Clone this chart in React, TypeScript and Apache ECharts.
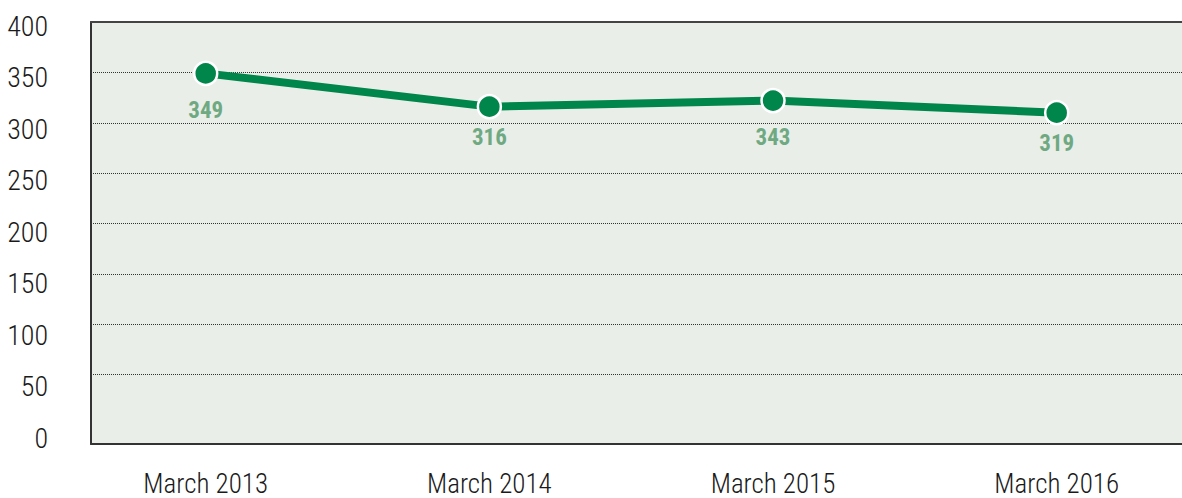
import React, { useEffect, useRef } from "react";
import * as echarts from "echarts";

const categories = ["March 2013", "March 2014", "March 2015", "March 2016"];
// plotted positions
const pointValues = [349, 316, 322, 310];
// printed labels as they appear in the picture
const printedLabels = ["349", "316", "343", "319"];
const yTickLabels = ["0", "50", "100", "150", "200", "250", "300", "350", "400"];

const labelGaps = [37, 31, 37, 31];

const FONT = '"Roboto Condensed", "Liberation Sans Narrow", "DejaVu Sans Condensed", sans-serif';
const GREEN = "#00854a";
const LABEL_GREEN = "#6fa982";
const FRAME = "#333333";

export default function App() {
  const ref = useRef<HTMLDivElement>(null);
  useEffect(() => {
    if (!ref.current) return;
    const chart = echarts.init(ref.current, null, { renderer: "svg" });
    const noBounds = { outerBoundsMode: "none" };
    const option: any = {
      animation: false,
      backgroundColor: "#ffffff",
      grid: [
        // 0: data
        { ...noBounds, left: 205.7, right: 125.3, top: 22, height: 403 },
        // 1: frame
        {
          ...noBounds, left: 91, right: -20, top: 22, bottom: 54,
          show: true, backgroundColor: "#e9eee9", borderWidth: 0,
        },
        // 2: y labels
        { ...noBounds, left: 90, right: 0, top: 26, height: 412 },
        // 3: gridlines
        { ...noBounds, left: 91, right: 0, top: 22, height: 403 },
      ],
      xAxis: [
        {
          gridIndex: 0, type: "category", data: categories, boundaryGap: false,
          axisLine: { show: false }, axisTick: { show: false }, splitLine: { show: false },
          axisLabel: { margin: 45, color: "#1a1a1a", fontSize: 27, fontWeight: 300, fontFamily: FONT },
        },
        {
          gridIndex: 1, type: "value", position: "bottom",
          axisLine: { show: true, lineStyle: { color: FRAME, width: 2 } },
          axisTick: { show: false }, axisLabel: { show: false }, splitLine: { show: false },
        },
        { gridIndex: 2, type: "value", show: false },
        { gridIndex: 3, type: "value", show: false },
        {
          gridIndex: 1, type: "value", position: "top",
          axisLine: { show: true, lineStyle: { color: "#444444", width: 2 } },
          axisTick: { show: false }, axisLabel: { show: false }, splitLine: { show: false },
        },
      ],
      yAxis: [
        { gridIndex: 0, type: "value", min: 0, max: 400, interval: 50, show: false },
        {
          gridIndex: 1, type: "value", position: "left",
          axisLine: { show: true, lineStyle: { color: FRAME, width: 2 } },
          axisTick: { show: false }, axisLabel: { show: false }, splitLine: { show: false },
        },
        {
          gridIndex: 2, type: "value", min: 0, max: 400, interval: 50,
          axisLine: { show: false }, axisTick: { show: false }, splitLine: { show: false },
          axisLabel: {
            margin: 42, color: "#1a1a1a", fontSize: 28, fontWeight: 300, fontFamily: FONT,
            formatter: (v: number) => yTickLabels[Math.round(v / 50)] ?? String(v),
          },
        },
        {
          gridIndex: 3, type: "value", min: 0, max: 400, interval: 50,
          axisLine: { show: false }, axisTick: { show: false }, axisLabel: { show: false },
          splitLine: {
            show: true, showMinLine: false, showMaxLine: false,
            lineStyle: { color: "#333333", width: 1, type: [1, 1] },
          },
        },
      ],
      series: [
        {
          type: "line",
          xAxisIndex: 0,
          yAxisIndex: 0,
          z: 10,
          data: pointValues.map((v, i) => ({
            value: v,
            label: {
              show: true,
              position: "inside",
              offset: [0, labelGaps[i]],
              formatter: () => printedLabels[i],
            },
          })),
          lineStyle: { color: GREEN, width: 8 },
          symbol: "circle",
          symbolSize: 23,
          itemStyle: { color: GREEN, borderColor: "#ffffff", borderWidth: 2.5 },
          label: {
            color: LABEL_GREEN, fontSize: 23, fontWeight: "bold", fontFamily: FONT,
          },
        },
      ],
    };
    chart.setOption(option);
    return () => chart.dispose();
  }, []);
  return (
    <div
      ref={ref}
      style={{ position: "fixed", left: 0, top: 0, width: 1182, height: 498 }}
    />
  );
}
